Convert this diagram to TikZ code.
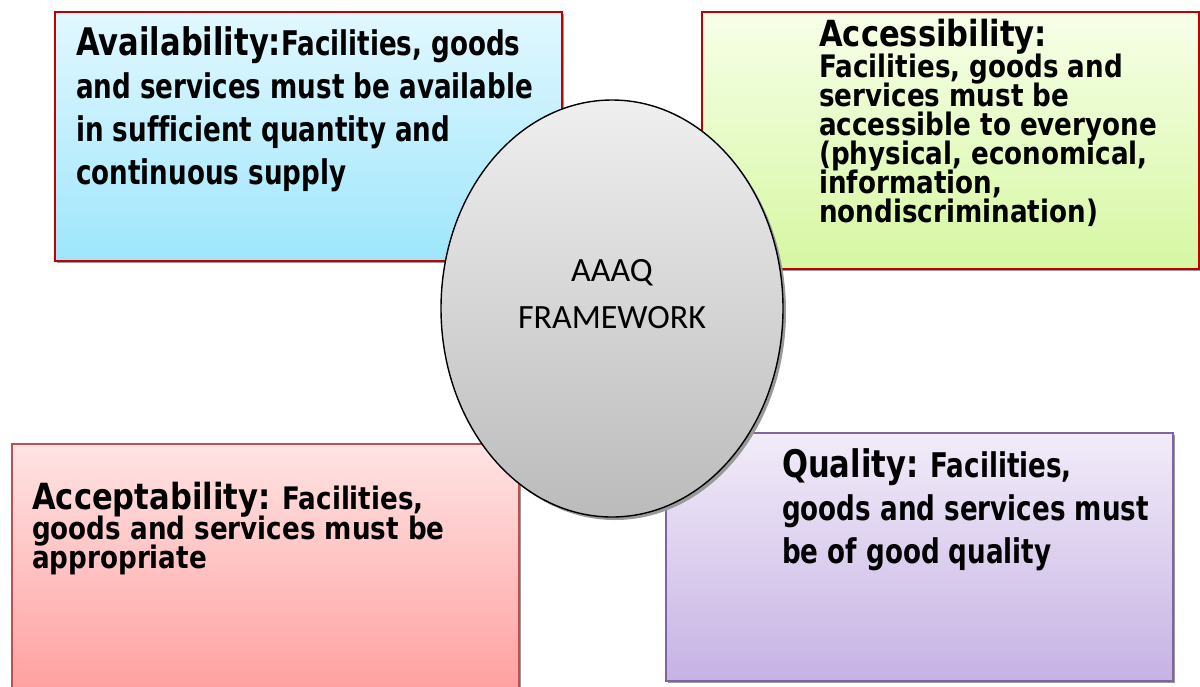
\documentclass[tikz,border=0pt]{standalone}
\usepackage{fontspec}
\usetikzlibrary{shapes.geometric}
\newfontfamily\headfont[FakeStretch=0.805,Ligatures=NoCommon]{DejaVu Sans}
\newfontfamily\headfontnarrow[FakeStretch=0.85,Ligatures=NoCommon]{DejaVu Sans}
\newfontfamily\bodyfont[FakeStretch=0.77,Ligatures=NoCommon]{DejaVu Sans}
\newfontfamily\bodyfontnarrow[FakeStretch=0.845,Ligatures=NoCommon]{DejaVu Sans}
\newfontfamily\ringfont{Carlito}
\newcommand{\headtxt}[1]{{\headfont\bfseries\fontsize{38}{42}\selectfont #1}}
\newcommand{\headtxtsmall}[1]{{\headfontnarrow\bfseries\fontsize{36}{40}\selectfont #1}}
\definecolor{edgered}{HTML}{C00000}
\definecolor{edgesoftred}{HTML}{C0504D}
\definecolor{edgeviolet}{HTML}{8064A2}
\definecolor{blueTop}{HTML}{E2F8FE}
\definecolor{blueBot}{HTML}{9EE6FC}
\definecolor{greenTop}{HTML}{F7FFE8}
\definecolor{greenBot}{HTML}{D6F7A2}
\definecolor{pinkTop}{HTML}{FFE4E4}
\definecolor{pinkBot}{HTML}{FF9C9C}
\definecolor{lilacTop}{HTML}{F2ECF9}
\definecolor{lilacBot}{HTML}{C6B2E4}
\definecolor{greyTop}{HTML}{EFEFEF}
\definecolor{greyBot}{HTML}{BBBBBB}
\begin{document}
\begin{tikzpicture}[x=1pt,y=-1pt,
  card/.style={rectangle, anchor=north west, inner sep=0pt, line width=1.6pt},
  cardshadow/.style={fill=black!40, draw=none},
  txt/.style={anchor=base west, inner sep=0pt, text=black,
    font=\bodyfont\bfseries\fontsize{34}{38}\selectfont},
  tighttxt/.style={anchor=base west, inner sep=0pt, text=black,
    font=\bodyfontnarrow\bfseries\fontsize{31}{34}\selectfont},
  ringtxt/.style={anchor=base, inner sep=0pt, text=black,
    font=\ringfont\fontsize{34}{40}\selectfont}]
\useasboundingbox (0,0) rectangle (1200,686);
\clip (0,0) rectangle (1200,686);
\fill[white] (0,0) rectangle (1200,686);

% drop shadows of the four cards
\fill[cardshadow] (57,14) rectangle (564,263);
\fill[cardshadow] (704,14) rectangle (1203,271);
\fill[cardshadow] (14,446) rectangle (521,720);
\fill[cardshadow] (668,435) rectangle (1175,683);

% the four cards
\node[card, draw=edgered, top color=blueTop, bottom color=blueBot,
  minimum width=507pt, minimum height=249pt] (avail) at (54,11) {};
\node[card, draw=edgered, top color=greenTop, bottom color=greenBot,
  minimum width=497pt, minimum height=257pt] (access) at (701,11) {};
\node[card, draw=edgesoftred, top color=pinkTop, bottom color=pinkBot,
  minimum width=507pt, minimum height=260pt] (accept) at (11,443) {};
\node[card, draw=edgeviolet, top color=lilacTop, bottom color=lilacBot,
  minimum width=507pt, minimum height=248pt] (quality) at (665,432) {};

% Availability
\node[txt] (av1) at (76,55) {\headtxt{Availability:}Facilities, goods};
\node[txt] (av2) at (76,98) {and services must be available};
\node[txt] (av3) at (76,141) {in sufficient quantity and};
\node[txt] (av4) at (76,184) {continuous supply};

% Accessibility
\node[tighttxt] (ac0) at (819,46) {\headtxtsmall{Accessibility:}};
\node[tighttxt] (ac1) at (819,77) {Facilities, goods and};
\node[tighttxt] (ac2) at (819,106) {services must be};
\node[tighttxt] (ac3) at (819,135) {accessible to everyone};
\node[tighttxt] (ac4) at (819,164) {(physical, economical,};
\node[tighttxt] (ac5) at (819,193) {information,};
\node[tighttxt] (ac6) at (819,222) {nondiscrimination)};

% Acceptability
\node[tighttxt] (ap1) at (32,509) {\headtxtsmall{Acceptability:} Facilities,};
\node[tighttxt] (ap2) at (32,539) {goods and services must be};
\node[tighttxt] (ap3) at (32,568) {appropriate};

% Quality
\node[txt] (q1) at (782,477) {\headtxt{Quality:} Facilities,};
\node[txt] (q2) at (782,520) {goods and services must};
\node[txt] (q3) at (782,563) {be of good quality};

% central ellipse
\fill[black!40] (615,311.5) ellipse [x radius=171, y radius=208.5];
\node[ellipse, draw=black, line width=1.4pt, inner sep=0pt,
  top color=greyTop, bottom color=greyBot,
  minimum width=342pt, minimum height=417pt] (ring) at (612,308.5) {};
\node[ringtxt] (r1) at (612,281) {AAAQ};
\node[ringtxt] (r2) at (612,328) {FRAMEWORK};
\end{tikzpicture}
\end{document}
